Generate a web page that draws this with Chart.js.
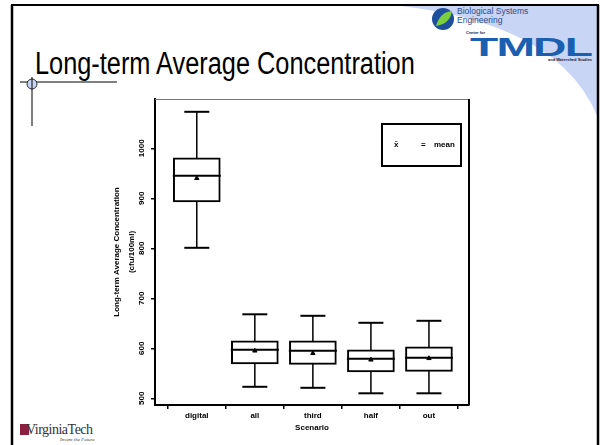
<!DOCTYPE html>
<html>
<head>
<meta charset="utf-8">
<script src="https://cdn.jsdelivr.net/npm/chart.js@4.4.1/dist/chart.umd.min.js"></script>
<style>
  body { margin:0; background:#fff; }
  #slide { position:relative; width:600px; height:445px; overflow:hidden; font-family:"Liberation Sans", Arial, sans-serif; }
  #deco { position:absolute; left:0; top:0; }
  #chart { position:absolute; left:0; top:0; }
  #title { position:absolute; left:35px; top:46px; font-size:31px; white-space:nowrap; transform-origin:left top; color:#000; }
  #legendBox { position:absolute; left:381px; top:123px; width:77px; height:40px; border:2px solid #000; font:bold 8px "Liberation Sans", Arial, sans-serif; }
  .lg { position:absolute; top:15px; }
  .bse { position:absolute; left:457px; top:7px; font-size:8.5px; line-height:9px; color:#2a4a8a; }
  .cf { position:absolute; left:466px; top:30px; font:bold 4px "Liberation Sans", Arial; color:#223; }
  .tmdl { position:absolute; left:470px; top:33px; font:900 25px "Liberation Sans", Arial; color:#1a5fb0; letter-spacing:-1px; transform:scaleX(1.85); transform-origin:left top; }
  .ws { position:absolute; left:548px; top:57px; font:bold 4px "Liberation Sans", Arial; color:#223; white-space:nowrap; }
  .vt { position:absolute; left:17px; top:422px; font:14px "Liberation Serif", serif; color:#333; letter-spacing:-0.5px; }
  .vt b { color:#8b1f3f; }
  .itf { position:absolute; left:60px; top:437px; font:italic 5px "Liberation Serif", serif; color:#444; }
</style>
</head>
<body>
<div id="slide">
  <svg id="deco" width="600" height="445">
    <path d="M 392 5 Q 560 22 598 118 L 598 5 Z" fill="#c9d5f4"/>
    <line x1="11" y1="5" x2="599" y2="5" stroke="#000" stroke-width="2"/>
    <line x1="12" y1="5" x2="12" y2="445" stroke="#000" stroke-width="2.5"/>
    <line x1="598" y1="5" x2="598" y2="445" stroke="#000" stroke-width="2.5"/>
    <line x1="20" y1="82" x2="117" y2="82" stroke="#000" stroke-width="1"/>
    <circle cx="32" cy="84" r="5" fill="#c9d5f4" stroke="#000" stroke-width="0.8"/>
    <line x1="32" y1="77" x2="32" y2="126" stroke="#000" stroke-width="1"/>
    <circle cx="443" cy="19" r="11" fill="#1d4f9c"/>
    <path d="M 436 26 Q 440 12 452 11 Q 450 24 436 26 Z" fill="#7ccf3c"/>
    <rect x="20" y="424" width="9" height="11" fill="#8b1f3f"/>
  </svg>
  <div id="title">Long-term Average Concentration</div>
  <div class="bse">Biological Systems<br>Engineering</div>
  <div class="cf">Center for</div>
  <div class="tmdl">TMDL</div>
  <div class="ws">and Watershed Studies</div>
  <div class="vt"><b>&nbsp;&nbsp;&nbsp;</b>VirginiaTech</div>
  <div class="itf">Invent the Future</div>
  <canvas id="chart" width="600" height="445"></canvas>
  <div id="legendBox"><span class="lg" style="left:11px">x̄</span><span class="lg" style="left:38px">=</span><span class="lg" style="left:51px">mean</span></div>
</div>
<script>
// Box plot values (cfu/100ml)
const scenarios = ['digital', 'all', 'third', 'half', 'out'];
const whiskerLow = [801, 523, 521, 510, 510];
const q1 = [893, 569, 568, 553, 554];
const median = [945, 597, 595, 579, 581];
const q3 = [981, 615, 615, 597, 603];
const whiskerHigh = [1073, 668, 665, 651, 655];
const means = [940, 595, 590, 577, 580];
const yTicks = [500, 600, 700, 800, 900, 1000];

// fit the title to its width in the slide
const t = document.getElementById('title');
t.style.transform = 'scaleX(' + (380 / t.offsetWidth) + ')';

const pos = scenarios.map((s, i) => i + 1);

// whisker stems, broken between boxes
const stems = [];
pos.forEach((x, i) => {
    stems.push({x: x, y: whiskerLow[i]}, {x: x, y: whiskerHigh[i]}, {x: x, y: null});
});
const caps = pos.map((x, i) => ({x: x, y: whiskerLow[i]}))
    .concat(pos.map((x, i) => ({x: x, y: whiskerHigh[i]})));

const framePlugin = {
    id: 'frame',
    afterDraw(chart) {
        const a = chart.chartArea, ctx = chart.ctx;
        ctx.save();
        ctx.strokeStyle = '#777';
        ctx.lineWidth = 1;
        ctx.beginPath();
        ctx.moveTo(a.left, a.top + 0.5);
        ctx.lineTo(a.right, a.top + 0.5);
        ctx.stroke();
        ctx.strokeStyle = '#000';
        ctx.lineWidth = 2;
        ctx.beginPath();
        ctx.moveTo(a.right, a.top);
        ctx.lineTo(a.right, a.bottom);
        ctx.stroke();
        ctx.restore();
    }
};

const font = {family: '"Liberation Sans", Arial, sans-serif', size: 8, weight: 'bold'};

new Chart(document.getElementById('chart'), {
    type: 'bar',
    data: {
        datasets: [
            {
                type: 'scatter',
                label: 'median',
                data: pos.map((x, i) => ({x: x, y: median[i]})),
                pointStyle: 'line',
                radius: 24,
                borderColor: '#000',
                borderWidth: 2,
                order: 1
            },
            {
                type: 'scatter',
                label: 'mean',
                data: pos.map((x, i) => ({x: x, y: means[i]})),
                pointStyle: 'triangle',
                radius: 2.5,
                backgroundColor: '#000',
                borderColor: '#000',
                borderWidth: 1,
                order: 0
            },
            {
                type: 'scatter',
                label: 'caps',
                data: caps,
                pointStyle: 'line',
                radius: 12.5,
                borderColor: '#000',
                borderWidth: 2,
                order: 1
            },
            {
                label: 'box',
                data: pos.map((x, i) => ({x: x, y: [q1[i], q3[i]]})),
                backgroundColor: '#fff',
                borderColor: '#000',
                borderWidth: 2,
                borderSkipped: false,
                barThickness: 47,
                order: 2
            },
            {
                type: 'line',
                label: 'whiskers',
                data: stems,
                borderColor: '#000',
                borderWidth: 1.5,
                pointRadius: 0,
                spanGaps: false,
                order: 3
            }
        ]
    },
    options: {
        responsive: false,
        animation: false,
        devicePixelRatio: 1,
        layout: { padding: { left: 95, right: 131, top: 99, bottom: 12 } },
        plugins: { legend: { display: false }, tooltip: { enabled: false } },
        scales: {
            x: {
                type: 'linear',
                offset: false,
                min: 0.28,
                max: 5.69,
                afterBuildTicks: s => { s.ticks = pos.map(v => ({value: v})); },
                afterFit: s => { s.height = 28; },
                border: { color: '#000', width: 2 },
                grid: { drawOnChartArea: false, tickLength: 4, color: '#000', lineWidth: 1.5 },
                ticks: { color: '#000', font: font, padding: 2, maxRotation: 0,
                         callback: v => scenarios[v - 1] },
                title: { display: true, text: 'Scenario', color: '#000', font: font, padding: 0 }
            },
            y: {
                min: 486.6,
                max: 1098.6,
                afterBuildTicks: s => { s.ticks = yTicks.map(v => ({value: v})); },
                afterFit: s => { s.width = 60; },
                border: { color: '#000', width: 2 },
                grid: { drawOnChartArea: false, tickLength: 4, color: '#000', lineWidth: 1.5 },
                ticks: { color: '#000', font: font, padding: 0, minRotation: 90, maxRotation: 90,
                         crossAlign: 'center', callback: v => String(v) },
                title: { display: true, text: ['Long-term Average Concentration', '(cfu/100ml)'],
                         color: '#000', font: {family: font.family, size: 8, weight: 'bold', lineHeight: 1.8},
                         padding: { top: 15, bottom: 0 } }
            }
        }
    },
    plugins: [framePlugin]
});
</script>
</body>
</html>
